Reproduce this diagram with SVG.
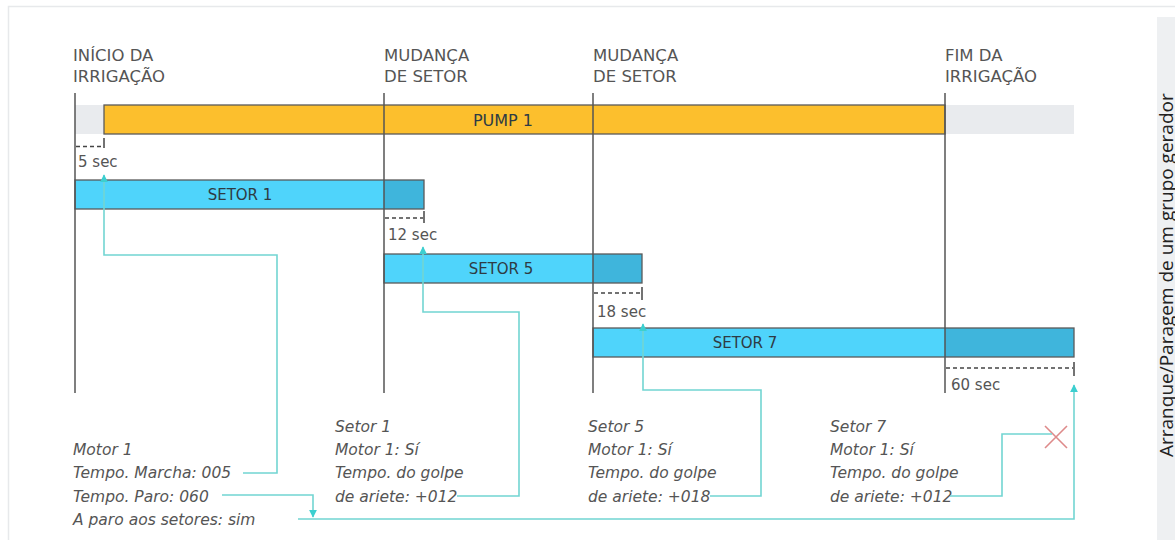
<svg xmlns="http://www.w3.org/2000/svg" width="1175" height="540" viewBox="0 0 1175 540">
  <style>
    .hdr { font-family: "DejaVu Sans", "Liberation Sans", sans-serif; font-size: 16.5px; fill: #555; }
    .bar-lbl { font-family: "DejaVu Sans", "Liberation Sans", sans-serif; font-size: 15px; fill: #2e3b44; text-anchor: middle; }
    .sec { font-family: "DejaVu Sans", "Liberation Sans", sans-serif; font-size: 15px; fill: #555; }
    .note { font-family: "DejaVu Sans", "Liberation Sans", sans-serif; font-size: 15.5px; font-style: italic; fill: #555; }
    .vline { stroke: #555; stroke-width: 1.5; }
    .dash { stroke: #444; stroke-width: 1.3; stroke-dasharray: 4 3; fill: none; }
    .tick { stroke: #444; stroke-width: 1.5; }
    .bar { stroke: #5a5a5a; stroke-width: 1.3; }
    .blue { fill: #4fd4fb; }
    .dblue { fill: #3fb5dc; }
    .conn { stroke: #72d5d2; stroke-width: 1.6; fill: none; }
  </style>
  <defs>
    <marker id="arr" viewBox="0 0 10 10" refX="9" refY="5" markerWidth="8" markerHeight="8" markerUnits="userSpaceOnUse" orient="auto">
      <path d="M0,0 L10,5 L0,10 z" fill="#3ccfd0"/>
    </marker>
  </defs>

  <rect x="0" y="0" width="1175" height="540" fill="#ffffff"/>
  <path d="M8.5,540 V6.5 H1175" fill="none" stroke="#e7e9eb" stroke-width="1.5"/>
  <rect x="1157" y="17" width="18" height="523" fill="#eef0f2"/>
  <text transform="translate(1173,457) rotate(-90)" font-family="'Open Sans', 'Liberation Sans', sans-serif" font-size="19" fill="#222">Arranque/Paragem de um grupo gerador</text>

  <!-- pump bar -->
  <g id="pump1">
    <rect x="75" y="105" width="999" height="29" fill="#e9ebee"/>
    <rect x="104" y="105" width="841" height="29" fill="#fcbf2d" class="bar"/>
    <text x="503" y="126" class="bar-lbl" style="font-size:16px">PUMP 1</text>
  </g>

  <g id="setor1">
    <rect x="75" y="180" width="309" height="29" class="blue"/>
    <rect x="384" y="180" width="40" height="29" class="dblue"/>
    <rect x="75" y="180" width="349" height="29" fill="none" class="bar"/>
    <text x="240" y="200" class="bar-lbl">SETOR 1</text>
  </g>

  <g id="setor5">
    <rect x="384" y="254" width="209" height="29" class="blue"/>
    <rect x="593" y="254" width="49" height="29" class="dblue"/>
    <rect x="384" y="254" width="258" height="29" fill="none" class="bar"/>
    <text x="501" y="274" class="bar-lbl">SETOR 5</text>
  </g>

  <g id="setor7">
    <rect x="593" y="328" width="352" height="29" class="blue"/>
    <rect x="945" y="328" width="129" height="29" class="dblue"/>
    <rect x="593" y="328" width="481" height="29" fill="none" class="bar"/>
    <text x="745" y="348" class="bar-lbl">SETOR 7</text>
  </g>

  <!-- time markers -->
  <g id="inicio">
    <line x1="75" y1="93" x2="75" y2="393" class="vline"/>
    <text class="hdr"><tspan x="73" y="61">INÍCIO DA</tspan><tspan x="73" y="82">IRRIGAÇÃO</tspan></text>
  </g>
  <g id="mudanca1">
    <line x1="384" y1="93" x2="384" y2="393" class="vline"/>
    <text class="hdr"><tspan x="384" y="61">MUDANÇA</tspan><tspan x="384" y="82">DE SETOR</tspan></text>
  </g>
  <g id="mudanca2">
    <line x1="593" y1="93" x2="593" y2="393" class="vline"/>
    <text class="hdr"><tspan x="593" y="61">MUDANÇA</tspan><tspan x="593" y="82">DE SETOR</tspan></text>
  </g>
  <g id="fim">
    <line x1="945" y1="93" x2="945" y2="393" class="vline"/>
    <text class="hdr"><tspan x="945" y="61">FIM DA</tspan><tspan x="945" y="82">IRRIGAÇÃO</tspan></text>
  </g>

  <!-- delays -->
  <g id="delay5">
    <line x1="76" y1="146.5" x2="103" y2="146.5" class="dash"/>
    <line x1="104" y1="138" x2="104" y2="148" class="tick"/>
    <text x="78" y="167" class="sec">5 sec</text>
  </g>
  <g id="delay12">
    <line x1="385" y1="218" x2="423" y2="218" class="dash"/>
    <line x1="424" y1="211" x2="424" y2="223" class="tick"/>
    <text x="388" y="240" class="sec">12 sec</text>
  </g>
  <g id="delay18">
    <line x1="594" y1="293" x2="641" y2="293" class="dash"/>
    <line x1="642" y1="287" x2="642" y2="300" class="tick"/>
    <text x="597" y="317" class="sec">18 sec</text>
  </g>
  <g id="delay60">
    <line x1="946" y1="368" x2="1073" y2="368" class="dash"/>
    <line x1="1074" y1="362" x2="1074" y2="376" class="tick"/>
    <text x="951" y="390" class="sec">60 sec</text>
  </g>

  <!-- notes -->
  <g id="note-motor">
    <text class="note"><tspan x="73" y="455">Motor 1</tspan><tspan x="73" y="478">Tempo. Marcha: 005</tspan><tspan x="73" y="502">Tempo. Paro: 060</tspan><tspan x="73" y="525">A paro aos setores: sim</tspan></text>
  </g>
  <g id="note-setor1">
    <text class="note"><tspan x="335" y="432">Setor 1</tspan><tspan x="335" y="455">Motor 1: Sí</tspan><tspan x="335" y="478">Tempo. do golpe</tspan><tspan x="335" y="502">de ariete: +012</tspan></text>
  </g>
  <g id="note-setor5">
    <text class="note"><tspan x="588" y="432">Setor 5</tspan><tspan x="588" y="455">Motor 1: Sí</tspan><tspan x="588" y="478">Tempo. do golpe</tspan><tspan x="588" y="502">de ariete: +018</tspan></text>
  </g>
  <g id="note-setor7">
    <text class="note"><tspan x="830" y="432">Setor 7</tspan><tspan x="830" y="455">Motor 1: Sí</tspan><tspan x="830" y="478">Tempo. do golpe</tspan><tspan x="830" y="502">de ariete: +012</tspan></text>
  </g>
  <g id="cancel-x">
    <path d="M1045,426 L1067,448 M1045,448 L1067,426" stroke="#de8a8a" stroke-width="1.6" fill="none"/>
  </g>

  <!-- connectors -->
  <g id="connectors">
    <path d="M243,473 H277 V255 H104 V175" class="conn" marker-end="url(#arr)"/>
    <path d="M457,496 H519 V312 H423 V247" class="conn" marker-end="url(#arr)"/>
    <path d="M710,496 H761 V390 H643 V324" class="conn" marker-end="url(#arr)"/>
    <path d="M950,496 H1002 V434 H1052" class="conn"/>
    <path d="M222,495 H313 V517" class="conn" marker-end="url(#arr)"/>
    <path d="M298,519 H1074 V385" class="conn" marker-end="url(#arr)"/>
  </g>
</svg>
